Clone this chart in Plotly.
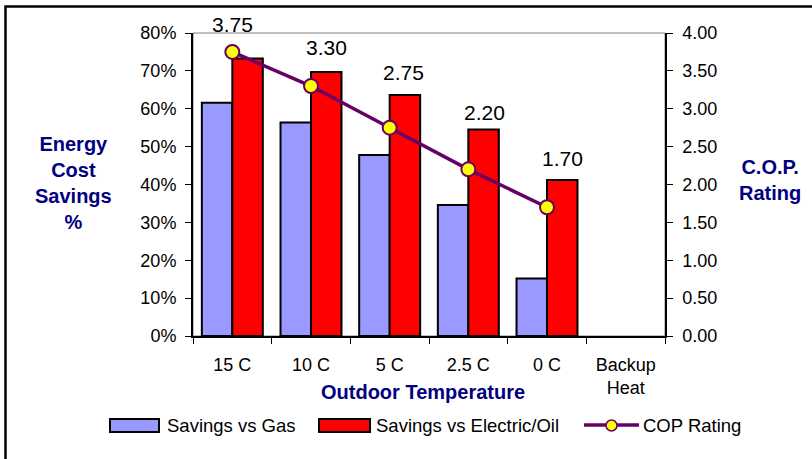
import plotly.graph_objects as go

# ---- data -------------------------------------------------------------
CATEGORIES = ["15 C", "10 C", "5 C", "2.5 C", "0 C", "Backup<br>Heat"]
SAVINGS_VS_GAS = [61.6, 56.4, 47.8, 34.6, 15.2]           # percent
SAVINGS_VS_ELECTRIC_OIL = [73.3, 69.7, 63.6, 54.5, 41.2]  # percent
COP_RATING = [3.75, 3.30, 2.75, 2.20, 1.70]
PCT_TICKS = [0, 10, 20, 30, 40, 50, 60, 70, 80]
COP_TICKS = [0.0, 0.5, 1.0, 1.5, 2.0, 2.5, 3.0, 3.5, 4.0]

# ---- page geometry ------------------------------------------------------
W, H = 812, 459
L, R, T, B = 193, 147, 33, 123
PW, PH = W - L - R, H - T - B

FONT = "Arial, 'Liberation Sans', sans-serif"
NAVY = "#000080"
GAS = "#9999FF"
ELEC = "#FF0000"
PURPLE = "#660066"
YELLOW = "#FFFF00"

# label offsets (pixels) of the COP value labels relative to their points
LABEL_DX = [0, 15, 14, 16, 15]
LABEL_DY = [27, 39, 55, 57, 49]


def px(x):
    return (x - L) / PW


def py(y):
    return (H - B - y) / PH


n = len(COP_RATING)
fig = go.Figure()
fig.add_trace(go.Bar(
    x=CATEGORIES[:n], y=SAVINGS_VS_GAS, name="Savings vs Gas",
    marker=dict(color=GAS, line=dict(color="black", width=2)),
))
fig.add_trace(go.Bar(
    x=CATEGORIES[:n], y=SAVINGS_VS_ELECTRIC_OIL, name="Savings vs Electric/Oil",
    marker=dict(color=ELEC, line=dict(color="black", width=2)),
))
fig.add_trace(go.Scatter(
    x=CATEGORIES[:n], y=COP_RATING, name="COP Rating", yaxis="y2",
    mode="lines+markers",
    line=dict(color=PURPLE, width=3.5),
    marker=dict(color=YELLOW, size=14, line=dict(color=PURPLE, width=2)),
))

annotations = []
for cat, v, dx, dy in zip(CATEGORIES, COP_RATING, LABEL_DX, LABEL_DY):
    annotations.append(dict(
        x=cat, y=v, xref="x", yref="y2", text=f"{v:.2f}", showarrow=False,
        xshift=dx, yshift=dy, font=dict(family=FONT, size=21, color="black"),
    ))

# axis titles
annotations += [
    dict(x=px(73), y=py(183), xref="paper", yref="paper",
         text="<b>Energy<br>Cost<br>Savings<br>%</b>", showarrow=False,
         xanchor="center", yanchor="middle",
         font=dict(family=FONT, size=20, color=NAVY)),
    dict(x=px(770), y=py(180), xref="paper", yref="paper",
         text="<b>C.O.P.<br>Rating</b>", showarrow=False,
         xanchor="center", yanchor="middle",
         font=dict(family=FONT, size=20, color=NAVY)),
    dict(x=px(423), y=py(392), xref="paper", yref="paper",
         text="<b>Outdoor Temperature</b>", showarrow=False,
         xanchor="center", yanchor="middle",
         font=dict(family=FONT, size=20, color=NAVY)),
]

# legend entries
LEG_Y = 425
legend_texts = [(165, "Savings vs Gas"), (374, "Savings vs Electric/Oil"),
                (641, "COP Rating")]
for x0, txt in legend_texts:
    annotations.append(dict(
        x=px(x0), y=py(LEG_Y), xref="paper", yref="paper", text=txt,
        showarrow=False, xanchor="left", yanchor="middle",
        font=dict(family=FONT, size=18.5, color="black"),
    ))

shapes = [
    # plot area border
    dict(type="rect", xref="paper", yref="paper", x0=0, x1=1, y0=0, y1=1,
         line=dict(color="#808080", width=1), layer="below"),
    # outer frame
    dict(type="rect", xref="paper", yref="paper",
         x0=px(5.5), x1=px(830), y0=py(480), y1=py(6.5),
         line=dict(color="black", width=2.5)),
    # legend swatches
    dict(type="rect", xref="paper", yref="paper",
         x0=px(110), x1=px(159), y0=py(432), y1=py(419),
         fillcolor=GAS, line=dict(color="black", width=2)),
    dict(type="rect", xref="paper", yref="paper",
         x0=px(319), x1=px(370), y0=py(432), y1=py(419),
         fillcolor=ELEC, line=dict(color="black", width=2)),
    dict(type="line", xref="paper", yref="paper",
         x0=px(584), x1=px(639), y0=py(LEG_Y), y1=py(LEG_Y),
         line=dict(color=PURPLE, width=3.5)),
    dict(type="circle", xref="paper", yref="paper",
         x0=px(606), x1=px(617), y0=py(431), y1=py(420),
         fillcolor=YELLOW, line=dict(color=PURPLE, width=1.5)),
]

tickfont = dict(family=FONT, size=18, color="black")

fig.update_layout(
    width=W, height=H,
    margin=dict(l=L, r=R, t=T, b=B, pad=0),
    paper_bgcolor="white", plot_bgcolor="white",
    showlegend=False,
    barmode="group", bargap=0.225, bargroupgap=0,
    font=dict(family=FONT, size=18, color="black"),
    annotations=annotations,
    shapes=shapes,
    xaxis=dict(
        type="category", categoryorder="array", categoryarray=CATEGORIES,
        range=[-0.5, len(CATEGORIES) - 0.5],
        tickson="boundaries", ticks="outside", ticklen=6, tickwidth=1,
        tickcolor="black", showline=True, linecolor="black", linewidth=2,
        showgrid=False, zeroline=False, tickfont=tickfont,
        ticklabelstandoff=11,
    ),
    yaxis=dict(
        range=[0, 80], tickvals=PCT_TICKS,
        ticktext=[f"{v}%" for v in PCT_TICKS],
        ticks="outside", ticklen=6, tickwidth=1, tickcolor="black",
        showline=True, linecolor="black", linewidth=2,
        showgrid=False, zeroline=False, tickfont=tickfont,
        ticklabelstandoff=5,
    ),
    yaxis2=dict(
        range=[0, 4], tickvals=COP_TICKS,
        ticktext=[f"{v:.2f}" for v in COP_TICKS],
        overlaying="y", side="right", anchor="x",
        ticks="outside", ticklen=6, tickwidth=1, tickcolor="black",
        showline=True, linecolor="black", linewidth=1.5,
        showgrid=False, zeroline=False, tickfont=tickfont,
        ticklabelstandoff=6,
    ),
    # inner halves of the crossing tick marks
    xaxis2=dict(
        overlaying="x", anchor="y", side="bottom",
        range=[-0.5, len(CATEGORIES) - 0.5],
        tickvals=[i - 0.5 for i in range(len(CATEGORIES) + 1)],
        ticks="inside", ticklen=6, tickwidth=1, tickcolor="black",
        showticklabels=False, showline=False, showgrid=False, zeroline=False,
    ),
    yaxis3=dict(
        overlaying="y", anchor="x", side="left", range=[0, 80],
        tickvals=PCT_TICKS, ticks="inside", ticklen=6, tickwidth=1,
        tickcolor="black", showticklabels=False, showline=False,
        showgrid=False, zeroline=False,
    ),
    yaxis4=dict(
        overlaying="y", anchor="x", side="right", range=[0, 4],
        tickvals=COP_TICKS, ticks="inside", ticklen=6, tickwidth=1,
        tickcolor="black", showticklabels=False, showline=False,
        showgrid=False, zeroline=False,
    ),
)

fig.write_html("out.html")
